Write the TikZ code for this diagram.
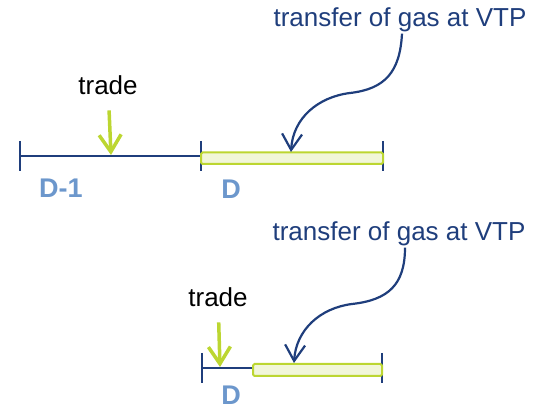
\documentclass[tikz,border=0pt]{standalone}
\usepackage{fontspec}
\setmainfont{Liberation Sans}
\usetikzlibrary{arrows.meta,positioning,calc}
\definecolor{vtpblue}{HTML}{1F3E7C}
\definecolor{daylblue}{HTML}{6C97CC}
\definecolor{tradegreen}{HTML}{BCD631}
\definecolor{barfill}{HTML}{F1F6D9}

\begin{document}
\begin{tikzpicture}[x=1pt,y=-1pt,
  lbl/.style={font=\fontsize{26}{30}\selectfont,inner sep=0pt},
  daylbl/.style={font=\fontsize{27}{30}\selectfont\bfseries,text=daylblue,inner sep=0pt},
  tline/.style={vtpblue,line width=1.6pt},
  gasbar/.style={draw=tradegreen,fill=barfill,line width=2pt,rounded corners=1.5pt},
  tradearr/.style={tradegreen,line width=3.5pt,-{Straight Barb[length=17pt,width=22pt,line width=3.5pt]}},
  vtparr/.style={vtpblue,line width=2.2pt,-{Straight Barb[length=16pt,width=20pt,line width=2.2pt]}}]

  \useasboundingbox (0,0) rectangle (541,411);

  % ---- Top: trade on D-1, transfer on D --------------------
  % Time line and ticks
  \draw[tline] (20,156) -- (201,156);
  \draw[tline] (20,141) -- (20,171);
  \draw[tline] (201,141) -- (201,171);
  \draw[tline] (383,141) -- (383,171);
  % Gas day bar
  \draw[gasbar] (201,152.5) rectangle (383,164);
  % Labels
  \node[lbl,anchor=base] (tradeTop) at (108,95) {trade};
  \node[daylbl,anchor=base] (dayPrev) at (61,197.5) {D-1};
  \node[daylbl,anchor=base] (dayTop) at (231,198.5) {D};
  \node[lbl,text=vtpblue,anchor=base] (xferTop) at (400,27) {transfer of gas at VTP};
  % Arrows
  \coordinate (tradeTipTop) at (111,155);
  \coordinate (gasTipTop) at (291,152);
  \draw[tradearr,shorten <=15pt] (tradeTop) -- (tradeTipTop);
  \draw[vtparr] ($(xferTop.south)+(2,1)$) .. controls (400,72) and (385,89) .. (350,93)
    .. controls (318,97) and (293,118) .. (gasTipTop);

  % ---- Bottom: trade and transfer both on D ----------------
  % Time line and ticks
  \draw[tline] (202,368) -- (253,368);
  \draw[tline] (202,353) -- (202,383);
  \draw[tline] (382,353) -- (382,383);
  % Gas bar
  \draw[gasbar] (253,364) rectangle (382,376);
  % Labels
  \node[lbl,anchor=base] (tradeBot) at (218,307) {trade};
  \node[daylbl,anchor=base] (dayBot) at (231,405) {D};
  \node[lbl,text=vtpblue,anchor=base] (xferBot) at (399,241) {transfer of gas at VTP};
  % Arrows
  \coordinate (tradeTipBot) at (220,367);
  \coordinate (gasTipBot) at (294,363);
  \draw[tradearr,shorten <=15pt] (tradeBot) -- (tradeTipBot);
  \draw[vtparr] ($(xferBot.south)+(6,1)$) .. controls (405,285) and (388,300) .. (352,304)
    .. controls (320,308) and (296,330) .. (gasTipBot);

\end{tikzpicture}
\end{document}
